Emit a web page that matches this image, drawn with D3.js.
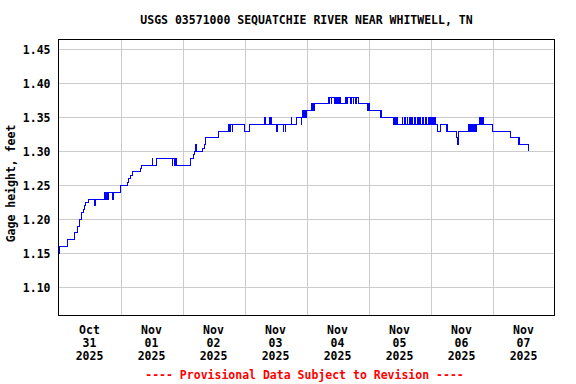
<!DOCTYPE html>
<html>
<head>
<meta charset="utf-8">
<script src="https://cdn.jsdelivr.net/npm/d3@7"></script>
<style>
  html, body { margin: 0; padding: 0; background: #fff; }
  svg text { font-family: "DejaVu Sans Mono", "Liberation Mono", monospace; font-weight: bold; font-size: 11.5px; }
</style>
</head>
<body>
<svg id="chart" width="576" height="384"></svg>
<script>
// ---- data ----
const chartTitle = "USGS 03571000 SEQUATCHIE RIVER NEAR WHITWELL, TN";
const yLabel = "Gage height, feet";
const footer = "---- Provisional Data Subject to Revision ----";
const dayMonths = ["Oct", "Nov", "Nov", "Nov", "Nov", "Nov", "Nov", "Nov"];
const dayNums = ["31", "01", "02", "03", "04", "05", "06", "07"];
const dayYears = ["2025", "2025", "2025", "2025", "2025", "2025", "2025", "2025"];
const yTicks = [1.10, 1.15, 1.20, 1.25, 1.30, 1.35, 1.40, 1.45];
// hours after 2025-10-31 00:00 at which the reading changes
const obsHours = [0, 0.25, 3.5, 6.0, 7.25, 8.0, 8.75, 9.75, 10.0, 10.5, 11.5, 13.75, 14.25,
  17.75, 18.0, 18.25, 18.5, 18.75, 19.0, 19.25, 21.0, 21.25, 24.0, 26.75, 27.25, 27.75, 28.5,
  31.75, 32.25, 36.25, 36.5, 37.75, 44.0, 44.25, 44.75, 45.0, 45.25, 45.5, 45.75, 51.0, 52.25,
  52.5, 53.0, 53.25, 55.75, 56.5, 57.0, 62.0, 65.75, 66.25, 66.75, 67.25, 67.5, 72.0, 73.75,
  79.75, 80.0, 81.75, 82.0, 82.25, 82.5, 84.5, 84.75, 87.0, 87.25, 87.75, 88.0, 90.0, 90.25,
  92.0, 94.0, 94.25, 94.5, 95.0, 95.25, 95.75, 96.0, 97.75, 98.0, 98.5, 98.75, 99.25,
  104.5, 104.75, 105.0, 105.5, 105.75, 106.75, 107.25, 107.5, 108.0, 108.5, 108.75, 109.25,
  111.0, 111.25, 111.5, 111.75, 112.0, 113.0, 113.25, 114.0, 114.25, 115.0, 115.25, 116.0,
  119.75, 120.0, 120.25, 124.5, 124.75, 125.0, 129.5, 130.25, 130.5, 131.0, 131.25, 133.0,
  133.25, 134.0, 134.25, 135.0, 135.25, 135.75, 136.25, 136.75, 137.0, 137.75, 138.25, 139.0,
  139.25, 139.75, 140.25, 141.0, 141.25, 142.0, 142.5, 143.25, 143.75, 144.0, 144.25, 144.5,
  144.75, 145.0, 145.5, 145.75, 146.0, 146.75, 147.75, 150.0, 150.25, 150.5, 154.25, 154.5,
  154.75, 155.0, 158.75, 159.0, 159.5, 159.75, 160.25, 160.5, 161.0, 161.25, 161.75, 163.0,
  163.25, 163.75, 164.0, 164.25, 164.5, 168.0, 175.0, 178.0, 178.25, 178.5, 181.75];
const gageFeet = [1.15, 1.16, 1.17, 1.18, 1.19, 1.20, 1.21, 1.215, 1.22, 1.225, 1.23, 1.22, 1.23,
  1.24, 1.23, 1.24, 1.23, 1.24, 1.23, 1.24, 1.23, 1.24, 1.25, 1.255, 1.26, 1.265, 1.27,
  1.275, 1.28, 1.29, 1.28, 1.29, 1.28, 1.29, 1.28, 1.29, 1.28, 1.29, 1.28, 1.29, 1.295,
  1.30, 1.31, 1.30, 1.305, 1.31, 1.32, 1.33, 1.34, 1.33, 1.34, 1.33, 1.34, 1.33, 1.34,
  1.35, 1.34, 1.35, 1.34, 1.35, 1.34, 1.33, 1.34, 1.33, 1.34, 1.33, 1.34, 1.35, 1.34,
  1.35, 1.34, 1.35, 1.36, 1.35, 1.36, 1.35, 1.36, 1.37, 1.36, 1.37, 1.36, 1.37,
  1.38, 1.37, 1.38, 1.37, 1.38, 1.37, 1.38, 1.37, 1.38, 1.37, 1.38, 1.37,
  1.38, 1.37, 1.38, 1.37, 1.38, 1.37, 1.38, 1.37, 1.38, 1.37, 1.38, 1.37,
  1.36, 1.37, 1.36, 1.35, 1.36, 1.35, 1.34, 1.35, 1.34, 1.35, 1.34, 1.35,
  1.34, 1.35, 1.34, 1.35, 1.34, 1.35, 1.34, 1.35, 1.34, 1.35, 1.34, 1.35,
  1.34, 1.35, 1.34, 1.35, 1.34, 1.35, 1.34, 1.35, 1.34, 1.35, 1.34, 1.35,
  1.34, 1.35, 1.34, 1.35, 1.34, 1.33, 1.34, 1.33, 1.34, 1.33, 1.32, 1.31,
  1.32, 1.33, 1.34, 1.33, 1.34, 1.33, 1.34, 1.33, 1.34, 1.33, 1.34, 1.35,
  1.34, 1.35, 1.34, 1.35, 1.34, 1.33, 1.32, 1.31, 1.32, 1.31, 1.30];

// ---- layout ----
const svg = d3.select("#chart");
const plot = { left: 58.5, right: 554.5, top: 39.5, bottom: 315.5 };
const start = Date.UTC(2025, 9, 31, 0, 0);
const HOUR = 3600000;

const x = d3.scaleUtc()
  .domain([new Date(start), new Date(start + 8 * 24 * HOUR)])
  .range([plot.left, plot.right]);
const y = d3.scaleLinear()
  .domain([1.0586, 1.4647])
  .range([plot.bottom, plot.top]);

const data = obsHours.map((h, i) => ({ date: new Date(start + h * HOUR), v: gageFeet[i] }));

// gridlines
const px = v => Math.round(v) + 0.5;
const grid = svg.append("g").attr("stroke", "#cccccc").attr("stroke-width", 1).attr("shape-rendering", "crispEdges");
grid.selectAll("line.h").data(yTicks).join("line")
  .attr("x1", plot.left).attr("x2", plot.right)
  .attr("y1", d => px(y(d))).attr("y2", d => px(y(d)));
const dayBounds = d3.utcDay.range(new Date(start + 24 * HOUR), new Date(start + 8 * 24 * HOUR));
grid.selectAll("line.v").data(dayBounds).join("line")
  .attr("y1", plot.top).attr("y2", plot.bottom)
  .attr("x1", d => px(x(d))).attr("x2", d => px(x(d)));

// series
const line = d3.line()
  .x(d => x(d.date))
  .y(d => y(d.v))
  .curve(d3.curveStepAfter);
svg.append("path")
  .datum(data)
  .attr("fill", "none")
  .attr("stroke", "#0000ff")
  .attr("stroke-width", 1)
  .attr("shape-rendering", "crispEdges")
  .attr("d", line);

// frame
svg.append("rect")
  .attr("x", plot.left).attr("y", plot.top)
  .attr("width", plot.right - plot.left).attr("height", plot.bottom - plot.top)
  .attr("fill", "none").attr("stroke", "#000").attr("stroke-width", 1)
  .attr("shape-rendering", "crispEdges");

// y axis labels
const yAxis = d3.axisLeft(y).tickValues(yTicks).tickSize(0).tickPadding(0).tickFormat(d3.format(".2f"));
const gy = svg.append("g").attr("transform", `translate(${plot.left - 8},0)`).call(yAxis);
gy.select(".domain").remove();
gy.selectAll("text").attr("fill", "#000").attr("font-size", null).attr("font-family", null)
  .attr("dy", "0.36em");

// y title
svg.append("text")
  .attr("transform", `translate(15,${(plot.top + plot.bottom) / 2 + 6}) rotate(-90)`)
  .attr("text-anchor", "middle")
  .text(yLabel);

// x labels (at noon of each day)
const days = d3.utcDay.range(new Date(start), new Date(start + 8 * 24 * HOUR));
const xl = svg.append("g").attr("text-anchor", "middle");
days.forEach((d, i) => {
  const cx = x(new Date(+d + 12 * HOUR));
  const t = xl.append("text").attr("x", cx).attr("y", 334);
  t.append("tspan").attr("x", cx).attr("dy", 0).text(dayMonths[i]);
  t.append("tspan").attr("x", cx).attr("dy", 13).text(dayNums[i]);
  t.append("tspan").attr("x", cx).attr("dy", 12.7).text(dayYears[i]);
});

// title
svg.append("text")
  .attr("x", (plot.left + plot.right) / 2).attr("y", 24)
  .attr("text-anchor", "middle")
  .text(chartTitle);

// footer
svg.append("text")
  .attr("x", (plot.left + plot.right) / 2 - 2).attr("y", 379)
  .attr("text-anchor", "middle")
  .attr("fill", "#ff0000")
  .text(footer);
</script>
</body>
</html>
